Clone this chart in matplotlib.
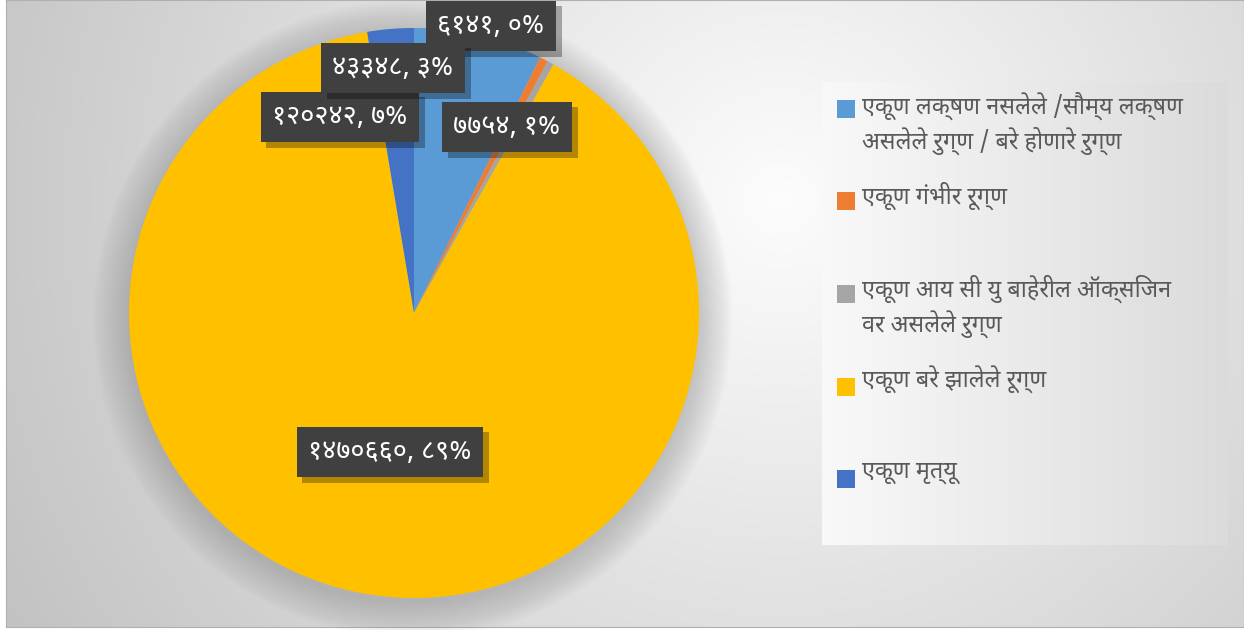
import matplotlib
matplotlib.use("Agg")
import numpy as np
import matplotlib.pyplot as plt
import matplotlib.patheffects as pe
from matplotlib.patches import Rectangle, Circle

# ---------------------------
# Data
# ---------------------------
categories = [
    "एकूण लक्षण नसलेले /सौम्य लक्षण\nअसलेले रुग्ण / बरे होणारे रुग्ण",
    "एकूण गंभीर रूग्ण",
    "एकूण आय सी यु बाहेरील ऑक्सिजन\nवर असलेले रुग्ण",
    "एकूण बरे झालेले रूग्ण",
    "एकूण मृत्यू",
]
values = [120242, 7754, 6141, 1470660, 43348]
percent_labels = ["७%", "१%", "०%", "८९%", "३%"]
colors = ["#5B9BD5", "#ED7D31", "#A5A5A5", "#FFC000", "#4472C4"]

DEV = ["Noto Sans Devanagari", "Noto Sans", "DejaVu Sans"]
deva_digits = str.maketrans("0123456789", "०१२३४५६७८९")

W, H = 1244, 630
fig = plt.figure(figsize=(W / 100, H / 100), dpi=100)
fig.patch.set_facecolor("white")

# ---------------------------
# Background gradient
# ---------------------------
bg = fig.add_axes([6 / W, 3 / H, 1 - 6 / W, 1 - 3 / H])
yy, xx = np.mgrid[0:627, 6:1244]
dist = np.sqrt((xx - 780) ** 2 + (yy - 200) ** 2) / 850
shade = 0.99 - 0.22 * np.clip(dist, 0, 1.1)
bg.imshow(np.dstack([shade] * 3), aspect="auto", extent=[0, 1, 0, 1])
bg.set_xlim(0, 1)
bg.set_ylim(0, 1)
for s in bg.spines.values():
    s.set_color("#b0b0b0")
bg.set_xticks([])
bg.set_yticks([])

# ---------------------------
# Pie
# ---------------------------
cx, cy, r = 414, 313, 285
ax = fig.add_axes([(cx - r) / W, (H - cy - r) / H, 2 * r / W, 2 * r / H])
ax.set_xlim(-1, 1)
ax.set_ylim(-1, 1)
ax.axis("off")

# soft shadow behind pie
for i in range(16):
    ax.add_patch(Circle((-0.005, -0.02), 1 + 0.008 * i, color="#8a8a8a",
                        alpha=0.03, lw=0, zorder=0, clip_on=False))

ax.pie(values, colors=colors, startangle=90, counterclock=False, radius=1,
       wedgeprops=dict(linewidth=0), frame=False)
ax.set_xlim(-1, 1)
ax.set_ylim(-1, 1)

# data labels (pixel centres of Excel's label boxes)
label_pos = [(340, 117), (507, 127), (491, 26), (390, 452), (393, 68)]
for v, p, (px, py) in zip(values, percent_labels, label_pos):
    txt = ax.text((px - cx) / r, (cy - py) / r,
                  f"{v}".translate(deva_digits) + ", " + p,
                  ha="center", va="center", color="white", fontsize=19.5,
                  fontweight="bold", family=DEV, zorder=5,
                  bbox=dict(boxstyle="square,pad=0.42", fc="#404040", ec="none"))
    txt.get_bbox_patch().set_path_effects(
        [pe.withSimplePatchShadow(offset=(4, -4), shadow_rgbFace="#000000", alpha=0.3)])

# ---------------------------
# Legend
# ---------------------------
lg = fig.add_axes([822 / W, (H - 545) / H, (1228 - 822) / W, (545 - 82) / H])
grad = np.linspace(0.975, 0.86, 200)
lg.imshow(np.dstack([np.tile(grad, (10, 1))] * 3), aspect="auto", extent=[0, 1, 0, 1])
lg.set_xlim(0, 1)
lg.set_ylim(0, 1)
lg.axis("off")

marker_y = [109, 201, 294, 387, 479]
line_y = [[106, 141], [196], [289, 325], [380], [472]]
for cat, col, my, ly in zip(categories, colors, marker_y, line_y):
    fig.patches.append(Rectangle((837 / W, (H - my - 9) / H), 18 / W, 18 / H,
                                 transform=fig.transFigure, fc=col, ec="none"))
    for line, y in zip(cat.split("\n"), ly):
        fig.text(862 / W, (H - y) / H, line, ha="left", va="center",
                 fontsize=16.8, color="#595959", family=DEV)

fig.savefig("out.png", dpi=100)
